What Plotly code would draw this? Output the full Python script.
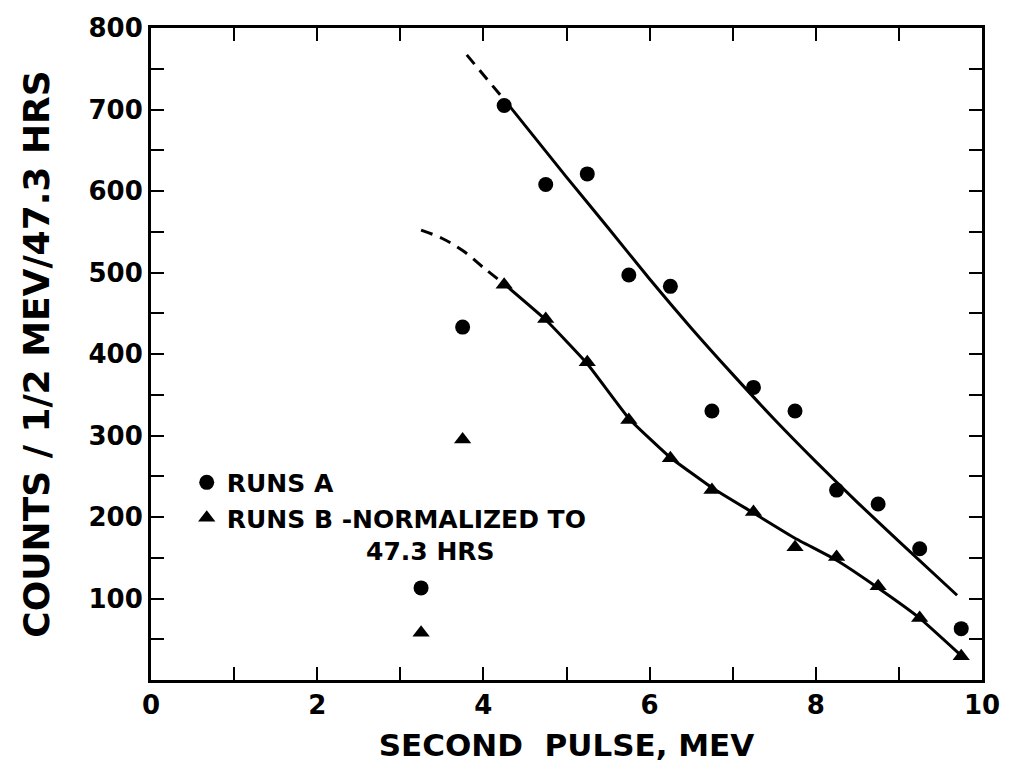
import plotly.graph_objects as go

# ---- data ----
energy = [3.25, 3.75, 4.25, 4.75, 5.25, 5.75, 6.25, 6.75, 7.25, 7.75, 8.25, 8.75, 9.25, 9.75]
runs_a = [113, 433, 705, 608, 621, 497, 483, 330, 359, 330, 233, 216, 161, 63]
runs_b = [58, 295, 485, 443, 390, 319, 272, 233, 206, 163, 151, 115, 76, 29]

upper_dash_x = [3.8, 4.05, 4.3]
upper_dash_y = [767, 737, 706]
upper_x = [4.3, 5.0, 5.5, 6.0, 6.5, 7.0, 7.5, 8.0, 8.5, 9.0, 9.7]
upper_y = [706, 617, 555, 492, 432, 375, 320, 268, 218, 170, 104]

lower_dash_x = [3.25, 3.5, 3.75, 4.0, 4.25]
lower_dash_y = [552, 542, 527, 506, 486]
lower_x = [4.25, 4.75, 5.25, 5.75, 6.25, 6.75, 7.25, 7.75, 8.25, 8.75, 9.25, 9.75]
lower_y = [486, 442, 388, 321, 273, 236, 205, 174, 147, 113, 76, 30]

x_ticks = list(range(0, 11))
x_ticktext = ["0", "", "2", "", "4", "", "6", "", "8", "", "10"]
y_ticks = list(range(0, 801, 50))
y_ticktext = [str(v) if (v % 100 == 0 and v > 0) else "" for v in y_ticks]

FONT = "DejaVu Sans"
BLACK = "#000000"

fig = go.Figure()

line_style = dict(color=BLACK, width=3)
fig.add_trace(go.Scatter(x=upper_dash_x, y=upper_dash_y, mode="lines",
                         line=dict(color=BLACK, width=3, dash="12px,8px"), showlegend=False, hoverinfo="skip"))
fig.add_trace(go.Scatter(x=upper_x, y=upper_y, mode="lines", line=dict(shape="spline", smoothing=0.6, **line_style),
                         showlegend=False, hoverinfo="skip"))
fig.add_trace(go.Scatter(x=lower_dash_x, y=lower_dash_y, mode="lines",
                         line=dict(color=BLACK, width=3, dash="12px,8px", shape="spline"), showlegend=False, hoverinfo="skip"))
fig.add_trace(go.Scatter(x=lower_x, y=lower_y, mode="lines", line=dict(shape="spline", smoothing=0.35, **line_style),
                         showlegend=False, hoverinfo="skip"))

fig.add_trace(go.Scatter(x=energy, y=runs_a, mode="markers", name="RUNS A",
                         marker=dict(symbol="circle", size=15, color=BLACK)))
fig.add_trace(go.Scatter(x=energy, y=runs_b, mode="markers",
                         name="RUNS B -NORMALIZED TO<br>" + "\u00a0" * 16 + "47.3 HRS",
                         marker=dict(symbol="triangle-up", size=15, color=BLACK)))

axis_font = dict(family=FONT, size=26, color=BLACK, weight="bold")

fig.update_layout(
    width=1012, height=771,
    margin=dict(l=151, r=25, t=28, b=91),
    paper_bgcolor="white", plot_bgcolor="white",
    font=dict(family=FONT, color=BLACK),
    showlegend=True,
    legend=dict(x=0.043, y=0.338, xanchor="left", yanchor="top",
                bgcolor="rgba(0,0,0,0)", borderwidth=0, valign="top",
                font=dict(family=FONT, size=25, color=BLACK, weight="bold"),
                tracegroupgap=0),
    xaxis=dict(range=[0, 10], tickmode="array", tickvals=x_ticks, ticktext=x_ticktext,
               ticks="inside", ticklen=13, tickwidth=2, tickcolor=BLACK,
               showline=True, linewidth=3, linecolor=BLACK, mirror="ticks",
               showgrid=False, zeroline=False, tickfont=axis_font,
               title=dict(text="SECOND  PULSE, MEV", font=dict(family=FONT, size=31, color=BLACK, weight="bold"),
                          standoff=16)),
    yaxis=dict(range=[0, 800], tickmode="array", tickvals=y_ticks, ticktext=y_ticktext,
               ticks="inside", ticklen=13, tickwidth=2, tickcolor=BLACK,
               showline=True, linewidth=3, linecolor=BLACK, mirror="ticks",
               showgrid=False, zeroline=False, tickfont=axis_font,
               title=dict(text="COUNTS / 1/2 MEV/47.3 HRS", font=dict(family=FONT, size=36, color=BLACK, weight="bold"),
                          standoff=28)),
)

fig.write_html("out.html")
